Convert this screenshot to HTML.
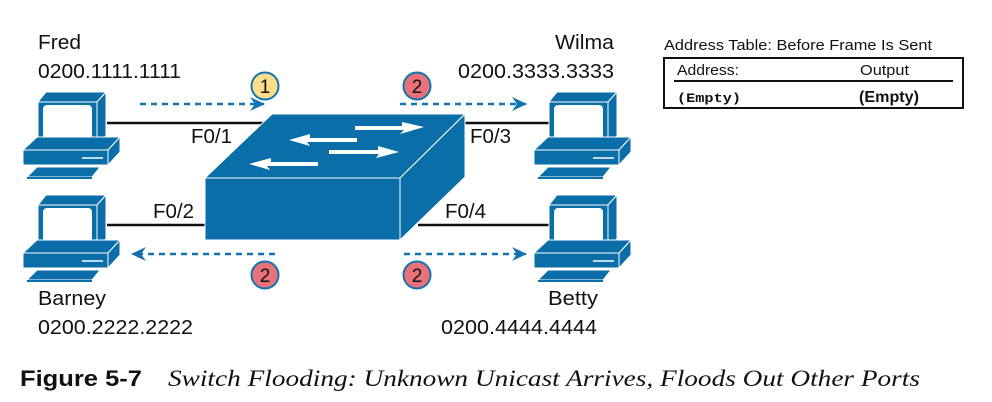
<!DOCTYPE html>
<html><head><meta charset="utf-8"><style>
html,body{margin:0;padding:0;background:#fff;}
svg{display:block;}
text{font-family:"Liberation Sans",Arial,sans-serif;fill:#111;}
</style></head><body>
<svg width="992" height="402" viewBox="0 0 992 402" xmlns="http://www.w3.org/2000/svg">
<defs>
<g id="pc">
  <polygon points="0,10 8,0 68,0 59,10" fill="#0a6ea8" stroke="#fff" stroke-width="1"/>
  <polygon points="59,10 68,0 68,44 59,51" fill="#0a6ea8" stroke="#fff" stroke-width="1"/>
  <rect x="0" y="10" width="59" height="41" fill="#0a6ea8" stroke="#fff" stroke-width="1"/>
  <rect x="5" y="13" width="49" height="34" rx="4" fill="#fff"/>
  <polygon points="-15,58 -1,45 82,45 70,58" fill="#0a6ea8" stroke="#fff" stroke-width="1"/>
  <polygon points="70,58 82,45 82,60 70,73" fill="#0a6ea8" stroke="#fff" stroke-width="1"/>
  <rect x="-15" y="58" width="85" height="15" fill="#0a6ea8" stroke="#fff" stroke-width="1"/>
  <line x1="44" y1="66" x2="65" y2="66" stroke="#fff" stroke-width="1.5"/>
  <polygon points="-11,85 -1,75 62,75 54,85" fill="#0a6ea8" stroke="#fff" stroke-width="1"/>
  <rect x="-11" y="85" width="65" height="2" fill="#0a6ea8"/>
</g>
<marker id="ah" markerWidth="16" markerHeight="14" refX="14" refY="7" orient="auto" markerUnits="userSpaceOnUse">
  <path d="M0,0 L15,7 L0,14 L5,7 Z" fill="#1173b0"/>
</marker>
</defs>

<line x1="107" y1="123" x2="272" y2="123" stroke="#111" stroke-width="2.5"/>
<line x1="107" y1="225" x2="206" y2="225" stroke="#111" stroke-width="2.5"/>
<line x1="465" y1="123" x2="550" y2="123" stroke="#111" stroke-width="2.5"/>
<line x1="418" y1="225" x2="550" y2="225" stroke="#111" stroke-width="2.5"/>

<use href="#pc" x="38" y="92"/>
<use href="#pc" x="38" y="195"/>
<use href="#pc" x="549" y="92"/>
<use href="#pc" x="549" y="195"/>

<polygon points="205,178 272,114 465,114 400,178" fill="#0a6ea8" stroke="#fff" stroke-width="1"/>
<polygon points="400,178 465,114 465,177 400,240" fill="#0a6ea8" stroke="#fff" stroke-width="1"/>
<rect x="205" y="178" width="195" height="62" fill="#0a6ea8" stroke="#fff" stroke-width="1"/>
<g fill="#fff">
  <polygon points="355,126 402,126 402,122 424,127 400,134 404,130 355,130"/>
  <polygon points="329,150 378,150 378,146 399,152 376,158 379,154 329,154"/>
  <polygon points="357,138 310,138 310,134 289,140 310,146 307,142 357,142"/>
  <polygon points="318,162 271,162 271,158 249,164 270,170 267,166 318,166"/>
</g>

<g stroke="#1173b0" stroke-width="2.5" stroke-dasharray="6,5" fill="none">
  <line x1="140" y1="104" x2="264" y2="104" marker-end="url(#ah)"/>
  <line x1="400" y1="104" x2="526" y2="104" marker-end="url(#ah)"/>
  <line x1="275" y1="254" x2="132" y2="254" marker-end="url(#ah)"/>
  <line x1="404" y1="254" x2="526" y2="254" marker-end="url(#ah)"/>
</g>

<g font-size="19" text-anchor="middle">
  <circle cx="265" cy="86" r="13.5" fill="#fddc8a" stroke="#1173b0" stroke-width="2"/>
  <text x="265" y="93">1</text>
  <circle cx="417" cy="86" r="13.5" fill="#e9727a" stroke="#1173b0" stroke-width="2"/>
  <text x="417" y="93">2</text>
  <circle cx="265" cy="275" r="13.5" fill="#e9727a" stroke="#1173b0" stroke-width="2"/>
  <text x="265" y="282">2</text>
  <circle cx="417" cy="275" r="13.5" fill="#e9727a" stroke="#1173b0" stroke-width="2"/>
  <text x="417" y="282">2</text>
</g>

<g font-size="20.5">
  <text x="38" y="49" textLength="43" lengthAdjust="spacingAndGlyphs">Fred</text>
  <text x="38" y="78" textLength="143" lengthAdjust="spacingAndGlyphs">0200.1111.1111</text>
  <text x="555" y="49" textLength="59" lengthAdjust="spacingAndGlyphs">Wilma</text>
  <text x="458" y="78" textLength="156" lengthAdjust="spacingAndGlyphs">0200.3333.3333</text>
  <text x="38" y="305" textLength="68" lengthAdjust="spacingAndGlyphs">Barney</text>
  <text x="38" y="334" textLength="155" lengthAdjust="spacingAndGlyphs">0200.2222.2222</text>
  <text x="548" y="305" textLength="50" lengthAdjust="spacingAndGlyphs">Betty</text>
  <text x="441" y="334" textLength="156" lengthAdjust="spacingAndGlyphs">0200.4444.4444</text>
  <text x="191" y="143">F0/1</text>
  <text x="153" y="218">F0/2</text>
  <text x="470" y="143">F0/3</text>
  <text x="445" y="218">F0/4</text>
</g>

<text x="664" y="50" font-size="14.5" textLength="268" lengthAdjust="spacingAndGlyphs">Address Table:  Before Frame Is Sent</text>
<rect x="664" y="58" width="299" height="50" fill="none" stroke="#111" stroke-width="2"/>
<text x="677" y="75" font-size="15" textLength="62" lengthAdjust="spacingAndGlyphs">Address:</text>
<text x="860" y="75" font-size="15" textLength="49" lengthAdjust="spacingAndGlyphs">Output</text>
<line x1="674" y1="81" x2="953" y2="81" stroke="#111" stroke-width="2"/>
<text x="677" y="102" font-size="13" font-weight="bold" textLength="64" lengthAdjust="spacingAndGlyphs" style="font-family:'Liberation Mono',monospace">(Empty)</text>
<text x="859" y="102" font-size="15.5" font-weight="bold" textLength="60" lengthAdjust="spacingAndGlyphs">(Empty)</text>

<text x="20" y="386" font-size="22" font-weight="bold" textLength="122" lengthAdjust="spacingAndGlyphs">Figure 5-7</text>
<text x="168" y="386" font-size="23" font-style="italic" textLength="752" lengthAdjust="spacingAndGlyphs" style="font-family:'Liberation Serif',serif">Switch Flooding: Unknown Unicast Arrives, Floods Out Other Ports</text>
</svg>
</body></html>
